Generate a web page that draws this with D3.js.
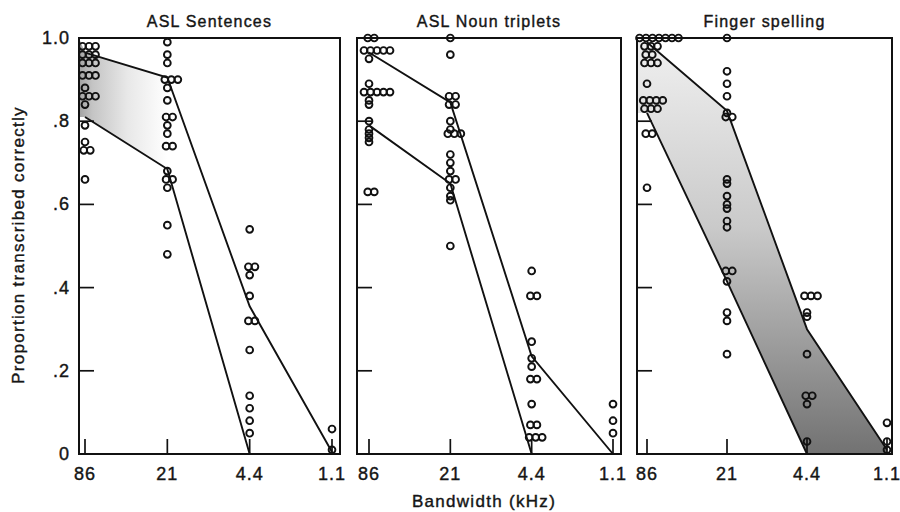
<!DOCTYPE html>
<html lang="en"><head>
<meta charset="utf-8">
<title>Proportion transcribed correctly by bandwidth</title>
<script src="https://cdn.jsdelivr.net/npm/d3@7"></script>
<style>
  body { margin: 0; background: #fff; }
  svg text { font-family: "Liberation Sans", Arial, sans-serif; fill: #151515; stroke: #151515; stroke-width: 0.4px; }
</style>
</head><body>
<svg id="chart" width="900" height="512"></svg>
<script>
const bandwidths = ["86", "21", "4.4", "1.1"]
const titles = ["ASL Sentences", "ASL Noun triplets", "Finger spelling"]
const yTicks = [0, 0.2, 0.4, 0.6, 0.8, 1.0]
const yTickLabels = ["0", ".2", ".4", ".6", ".8", "1.0"]

// one list of proportions per bandwidth (86, 21, 4.4, 1.1 kHz)
const sentencePoints = [
  [.98, .98, .98, .96, .96, .96, .94, .94, .94, .91, .91, .91, .88, .86, .86, .86, .84, .79, .75, .73, .73, .66],
  [.99, .96, .94, .90, .90, .90, .88, .85, .81, .81, .79, .77, .74, .74, .68, .66, .66, .64, .55, .48],
  [.54, .45, .45, .43, .38, .32, .32, .25, .14, .11, .08, .05],
  [.06, .01]
]
const nounPoints = [
  [1.0, 1.0, .97, .97, .97, .97, .97, .95, .89, .87, .87, .87, .87, .87, .85, .84, .80, .78, .77, .76, .75, .63, .63],
  [1.0, .96, .86, .86, .84, .84, .80, .78, .77, .77, .77, .72, .70, .68, .66, .66, .64, .62, .61, .50],
  [.44, .38, .38, .27, .23, .21, .18, .18, .12, .07, .07, .04, .04, .04],
  [.12, .08, .05]
]
const fingerPoints = [
  [1.0, 1.0, 1.0, 1.0, 1.0, 1.0, 1.0, .98, .98, .98, .96, .96, .94, .94, .94, .89, .85, .85, .85, .85, .83, .83, .83, .77, .77, .64],
  [1.0, .92, .89, .86, .82, .81, .81, .66, .65, .62, .60, .59, .56, .545, .44, .44, .415, .34, .32, .24],
  [.38, .38, .38, .34, .33, .24, .14, .14, .12, .03],
  [.075, .03, .01]
]

// upper and lower bounding lines
const sentenceUpper = [.965, .905, .355, .005]
const sentenceLower = [.81, .685, 0, null]
const nounUpper = [.965, .845, .235, 0]
const nounLower = [.79, .65, 0, null]
const fingerUpper = [.99, .825, .30, .01]
const fingerLower = [.82, .415, 0, null]

const panels = [
  {left: 79, width: 261, x0: 6, x1: 253, points: sentencePoints, upper: sentenceUpper, lower: sentenceLower, shade: "left"},
  {left: 357, width: 264, x0: 12, x1: 256, points: nounPoints, upper: nounUpper, lower: nounLower, shade: null},
  {left: 637, width: 255, x0: 10, x1: 250, points: fingerPoints, upper: fingerUpper, lower: fingerLower, shade: "full"}
]

const svg = d3.select("#chart")
const y = d3.scaleLinear().domain([0, 1]).range([454, 38])
const defs = svg.append("defs")

// horizontal fade for the sentence band
let g1 = defs.append("linearGradient").attr("id", "fadeLeft")
  .attr("gradientUnits", "objectBoundingBox").attr("x1", 0).attr("x2", 1).attr("y1", 0).attr("y2", 0)
g1.append("stop").attr("offset", 0).attr("stop-color", "#a2a2a2")
g1.append("stop").attr("offset", 0.15).attr("stop-color", "#c4c4c4")
g1.append("stop").attr("offset", 0.55).attr("stop-color", "#e8e8e8")
g1.append("stop").attr("offset", 1).attr("stop-color", "#ffffff")

// vertical darkening for finger spelling
let g3 = defs.append("linearGradient").attr("id", "fadeDown")
  .attr("gradientUnits", "userSpaceOnUse").attr("x1", 0).attr("x2", 0).attr("y1", 40).attr("y2", 454)
g3.append("stop").attr("offset", 0).attr("stop-color", "#f0f0f0")
g3.append("stop").attr("offset", 0.45).attr("stop-color", "#cacaca")
g3.append("stop").attr("offset", 1).attr("stop-color", "#727272")

function stack(values) {
  const counts = d3.rollup(values, v => v.length, d => d)
  const seen = new Map()
  return values.map(v => {
    const k = seen.get(v) || 0
    seen.set(v, k + 1)
    return {v: v, k: k, n: counts.get(v)}
  })
}

panels.forEach((p, pi) => {
  const x = d3.scalePoint().domain(bandwidths).range([p.x0, p.x1])
  const g = svg.append("g").attr("transform", `translate(${p.left},0)`)

  // shaded band between the lines
  if (p.shade) {
    let band
    if (p.shade == "left") {
      band = [
        {x: 0, hi: 1.0, lo: p.lower[0]},
        {x: x("86"), hi: p.upper[0], lo: p.lower[0]},
        {x: x("21"), hi: p.upper[1], lo: p.lower[1]}
      ]
    } else {
      band = [{x: 0, hi: p.upper[0], lo: p.lower[0]}]
        .concat(bandwidths.map((b, i) => ({x: x(b), hi: p.upper[i], lo: p.lower[i] == null ? 0 : p.lower[i]})))
    }
    g.append("path")
      .datum(band)
      .attr("d", d3.area().x(d => d.x).y0(d => y(d.lo)).y1(d => y(d.hi)))
      .attr("fill", p.shade == "left" ? "url(#fadeLeft)" : "url(#fadeDown)")
  }

  // bounding lines
  const line = d3.line()
    .defined(d => d != null)
    .x((d, i) => x(bandwidths[i]))
    .y(d => y(d))
  ;[p.upper, p.lower].forEach(l => {
    g.append("path").datum(l).attr("d", line)
      .attr("fill", "none").attr("stroke", "#111").attr("stroke-width", 1.9)
  })

  // frame
  g.append("rect")
    .attr("x", 0).attr("y", y(1)).attr("width", p.width).attr("height", y(0) - y(1))
    .attr("fill", "none").attr("stroke", "#111").attr("stroke-width", 2)

  // inward ticks
  g.selectAll(".ytick").data(yTicks.slice(1, 5)).enter().append("line")
    .attr("x1", 0).attr("x2", 15).attr("y1", d => y(d)).attr("y2", d => y(d))
    .attr("stroke", "#111").attr("stroke-width", 1.7)
  g.selectAll(".xtick").data(bandwidths).enter().append("line")
    .attr("x1", d => x(d)).attr("x2", d => x(d)).attr("y1", y(0)).attr("y2", y(0) - 15)
    .attr("stroke", "#111").attr("stroke-width", 1.7)

  // data points
  bandwidths.forEach((b, i) => {
    g.selectAll(null).data(stack(p.points[i])).enter().append("circle")
      .attr("cx", d => x(b) + (d.k - (d.n - 1) / 2) * 6.5 + (d.n - 1) * 2)
      .attr("cy", d => y(d.v))
      .attr("r", 3.4)
      .attr("fill", "none")
      .attr("stroke", "#111")
      .attr("stroke-width", 1.9)
  })

  // bandwidth labels
  g.selectAll(".xlab").data(bandwidths).enter().append("text")
    .attr("x", d => x(d)).attr("y", 480)
    .attr("text-anchor", "middle")
    .style("font-size", "18px").style("letter-spacing", "1px")
    .text(d => d)

  // panel title
  g.append("text")
    .attr("x", p.width / 2).attr("y", 27)
    .attr("text-anchor", "middle")
    .style("font-size", "16px").style("letter-spacing", "1.2px")
    .text(titles[pi])
})

// y tick labels on the first panel only
svg.selectAll(".ylab").data(yTicks).enter().append("text")
  .attr("x", 70).attr("y", d => y(d) + 6)
  .attr("text-anchor", "end")
  .style("font-size", "18px").style("letter-spacing", "1px")
  .text((d, i) => yTickLabels[i])

svg.append("text")
  .attr("transform", "translate(24,245) rotate(-90)")
  .attr("text-anchor", "middle")
  .style("font-size", "17px").style("letter-spacing", "1.3px")
  .text("Proportion transcribed correctly")

svg.append("text")
  .attr("x", 484).attr("y", 507)
  .attr("text-anchor", "middle")
  .style("font-size", "17px").style("letter-spacing", "1.3px")
  .text("Bandwidth (kHz)")
</script>
</body></html>
